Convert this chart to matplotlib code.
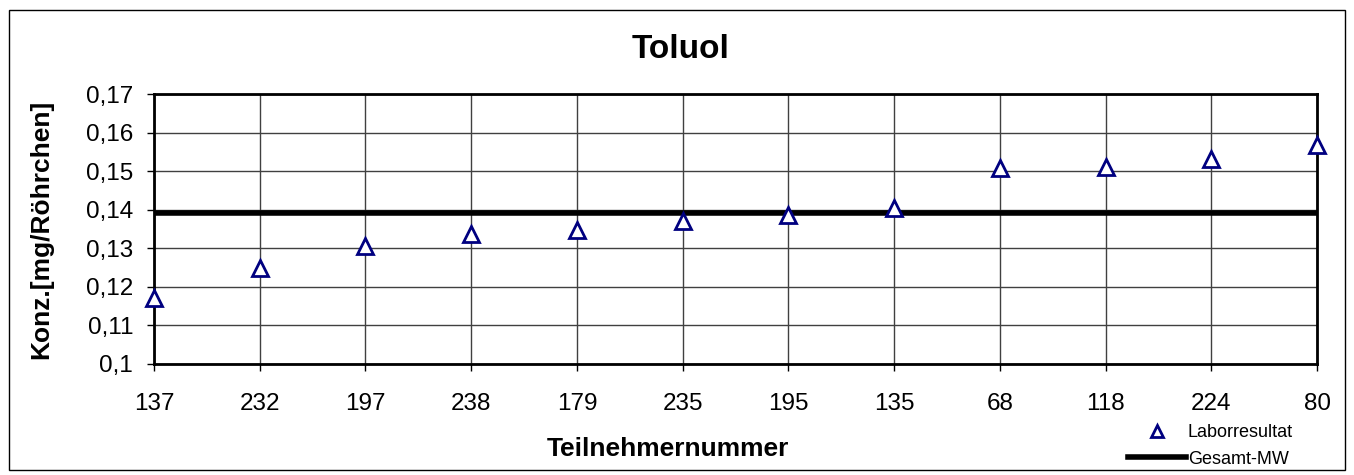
import matplotlib.pyplot as plt
from matplotlib.patches import Rectangle

plt.rcParams['font.family'] = ['Liberation Sans', 'DejaVu Sans']

# Teilnehmer und Messwerte
teilnehmer = ['137', '232', '197', '238', '179', '235', '195', '135', '68', '118', '224', '80']
werte = [0.1171, 0.1249, 0.1307, 0.1337, 0.1347, 0.1371, 0.1386, 0.1404, 0.1508, 0.1511, 0.1532, 0.1567]
gesamt_mw = 0.1392
y_ticks = [0.10, 0.11, 0.12, 0.13, 0.14, 0.15, 0.16, 0.17]
y_labels = ['0,1', '0,11', '0,12', '0,13', '0,14', '0,15', '0,16', '0,17']

fig = plt.figure(figsize=(13.54, 4.75), dpi=100)
ax = fig.add_axes([0.1137, 0.2337, 0.859, 0.5684])

x = list(range(len(teilnehmer)))
ax.plot(x, werte, linestyle='none', marker='^', markersize=11,
        markerfacecolor='white', markeredgecolor='#000080', markeredgewidth=2,
        clip_on=False, zorder=5, label='Laborresultat')
ax.axhline(gesamt_mw, color='black', linewidth=4, zorder=4, label='Gesamt-MW')

ax.set_xlim(0, len(teilnehmer) - 1)
ax.set_ylim(0.10, 0.17)
ax.set_xticks(x)
ax.set_xticklabels(teilnehmer)
ax.set_yticks(y_ticks)
ax.set_yticklabels(y_labels)
ax.tick_params(labelsize=17.5, length=5, width=1, direction='out')
ax.tick_params(axis='x', pad=16)
ax.tick_params(axis='y', pad=10)
ax.grid(True, color='#404040', linewidth=1)
ax.set_axisbelow(True)
for s in ax.spines.values():
    s.set_linewidth(2)

fig.text(681 / 1354, 1 - 49 / 475, 'Toluol', fontsize=24, fontweight='bold',
         ha='center', va='center')
ax.set_xlabel('Teilnehmernummer', fontsize=19, fontweight='bold')
ax.xaxis.set_label_coords((668 - 154) / 1163, -0.27)
ax.set_ylabel('Konz.[mg/Röhrchen]', fontsize=19, fontweight='bold')
ax.yaxis.set_label_coords(-0.087, 0.5)

fig.legend(loc='lower right', bbox_to_anchor=(0.967, -0.019), frameon=False,
           fontsize=13, handlelength=3.2, handletextpad=0.1, labelspacing=0.55,
           markerscale=0.8)

fig.patches.append(Rectangle((0.007, 0.01), 0.986, 0.97, transform=fig.transFigure,
                             fill=False, edgecolor='black', linewidth=1))

fig.savefig('out.png', dpi=100)
